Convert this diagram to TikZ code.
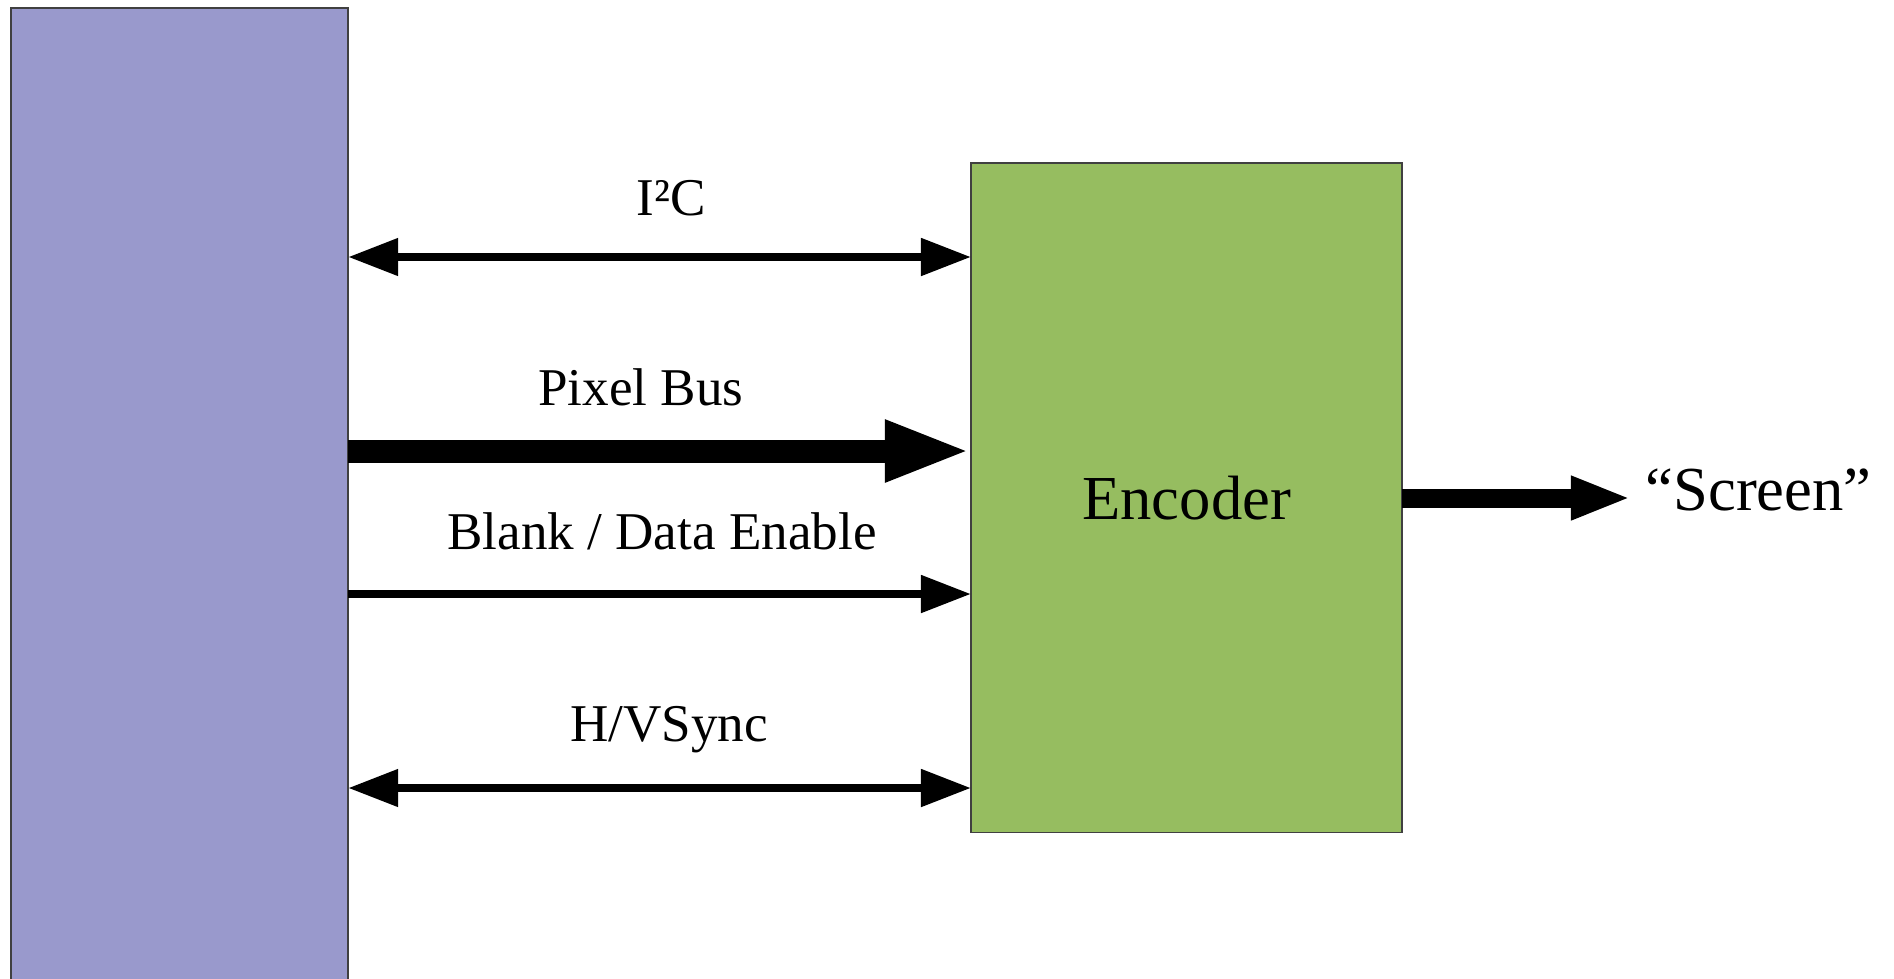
\documentclass[tikz,border=0pt]{standalone}
\usepackage{fontspec}
\setmainfont{Liberation Serif}
\usetikzlibrary{arrows.meta}
\definecolor{hostfill}{HTML}{9999CC}
\definecolor{encfill}{HTML}{96BD60}
\begin{document}
\begin{tikzpicture}[x=0.01cm,y=-0.01cm,
    box/.style={draw=black!75,line width=0.5pt,outer sep=0pt,inner sep=0pt},
    lbl/.style={anchor=base,inner sep=0pt,font=\fontsize{15.1}{18}\selectfont},
    thin tip/.style={line width=0.08cm},
    tipA/.tip={Triangle[length=0.5cm,width=0.36cm]},
    tipB/.tip={Triangle[length=0.86cm,width=0.56cm]},
    tipC/.tip={Triangle[length=0.6cm,width=0.4cm]}]
        \useasboundingbox (0,0) rectangle (1894,978);
        \clip (0,0) rectangle (1894,978);
        \node[box,fill=hostfill,anchor=north west,minimum width=3.37cm,minimum height=9.9cm] (host) at (11,8) {};
        \node[box,fill=encfill,anchor=north west,minimum width=4.31cm,minimum height=6.69cm,
              font=\fontsize{17.8}{21}\selectfont] (enc) at (971,163) {Encoder};
        \node[anchor=base west,inner xsep=0.14cm,inner ysep=0pt,font=\fontsize{17.8}{21}\selectfont] (scr) at (1631,510) {“Screen”};
        \node[lbl] (i2c) at (671,215) {I²C};
        \node[lbl] (pix) at (641,405) {Pixel Bus};
        \node[lbl] (blank) at (662,549) {Blank / Data Enable};
        \node[lbl] (sync) at (669,741) {H/VSync};
        \draw[thin tip,tipA-tipA] (host.east |- 0,257) -- (enc.west |- 0,257);
        \draw[line width=0.23cm,-tipB] (host.east |- 0,451) -- (enc.west |- 0,451);
        \draw[thin tip,-tipA] (host.east |- 0,594) -- (enc.west |- 0,594);
        \draw[thin tip,tipA-tipA] (host.east |- 0,788) -- (enc.west |- 0,788);
        \draw[line width=0.19cm,-tipC] (enc.east |- 0,498) -- (scr.west |- 0,498);
      \end{tikzpicture}
\end{document}
